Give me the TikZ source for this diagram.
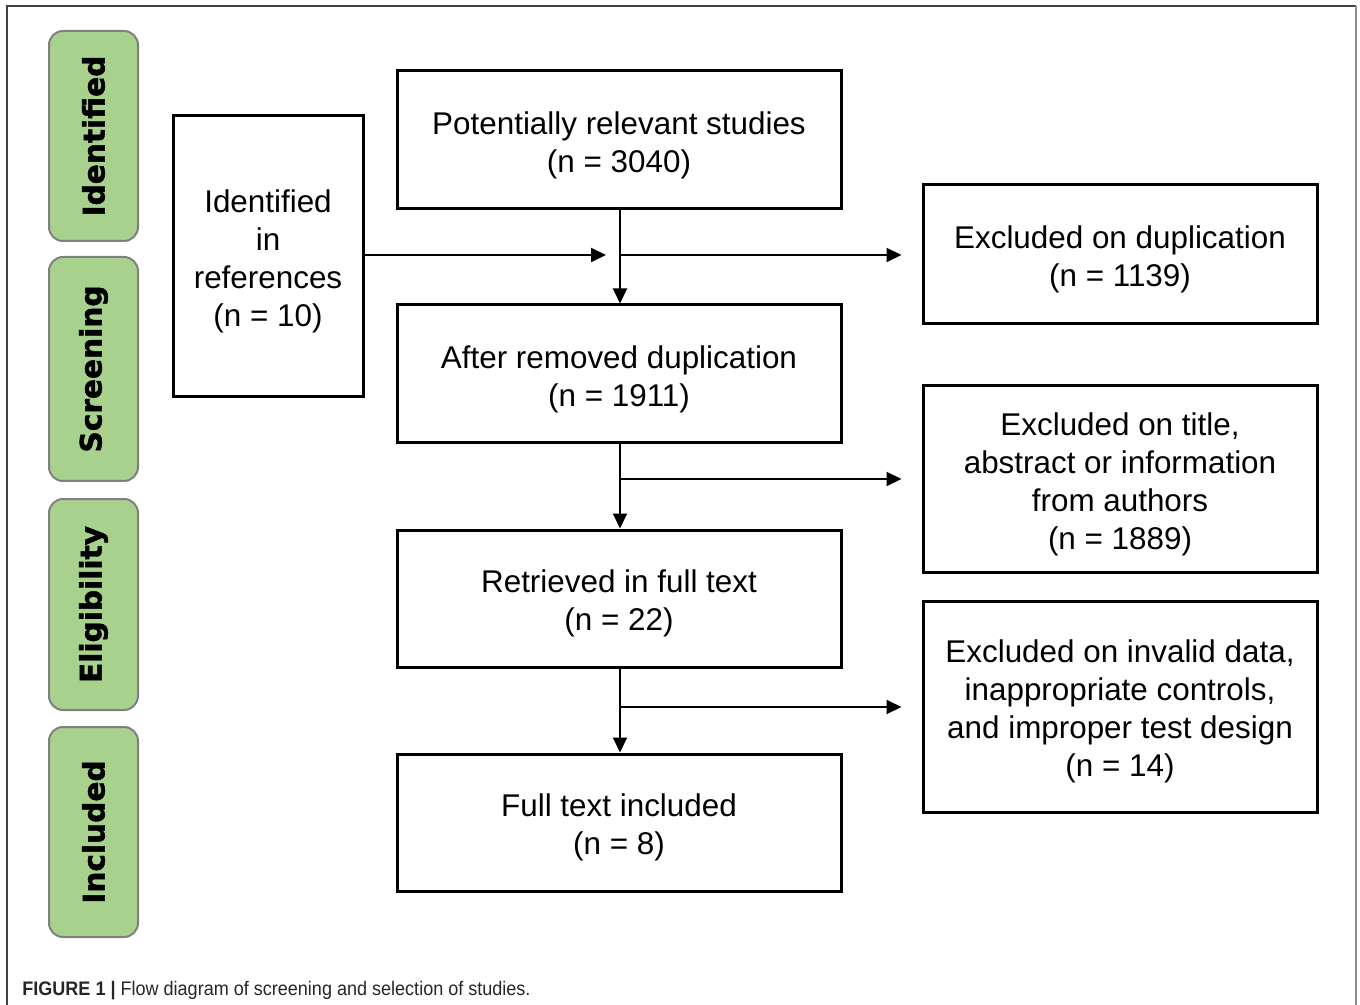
\documentclass[tikz,border=0pt]{standalone}
\usepackage{fontspec}
\setmainfont{Liberation Sans}
\newfontfamily\phasefont{DejaVu Sans}[BoldFeatures={FakeBold=1.5}]
\usetikzlibrary{arrows.meta}
\definecolor{phasegreen}{HTML}{A9D18E}
\definecolor{phaseedge}{HTML}{808080}
\newcommand\topgap{\rule{0pt}{16.5pt}}
\begin{document}
\begin{tikzpicture}[x=0.5pt,y=-0.5pt,
  box/.style={draw, line width=1.5pt, align=center, inner sep=0pt,
    font=\fontsize{15.7pt}{19pt}\selectfont},
  phase/.style={draw=phaseedge, fill=phasegreen, line width=1pt, rounded corners=7pt,
    rotate=90, inner sep=0pt, minimum height=44.5pt,
    font=\phasefont\bfseries\fontsize{14.8pt}{18pt}\selectfont},
  arr/.style={line width=1pt, -{Triangle[length=7.5pt,width=7pt]}},
  ln/.style={line width=1pt}
]
\useasboundingbox (0,0) rectangle (1360,1005);
% outer frame
\draw[line width=1pt, black!75] (7,1005) -- (7,6) -- (1356,6);
\draw[line width=1.3pt, black!45] (1356,6) -- (1356,1005);

% phase labels
\node[phase, minimum width=105pt] (ph1) at (93.5,136) {Identified};
\node[phase, minimum width=112pt] (ph2) at (93.5,369) {Screening};
\node[phase, minimum width=105.5pt] (ph3) at (93.5,604.5) {Eligibility};
\node[phase, minimum width=105pt] (ph4) at (93.5,832) {Included};

% boxes
\node[box, minimum width=95pt, minimum height=140.5pt] (ref) at (268,256.5)
  {\topgap Identified\\in\\references\\(n = 10)};
\node[box, minimum width=222pt, minimum height=69pt] (pot) at (619,140)
  {\topgap Potentially relevant studies\\(n = 3040)};
\node[box, minimum width=197pt, minimum height=69.5pt] (exdup) at (1120,254.5)
  {\topgap Excluded on duplication\\(n = 1139)};
\node[box, minimum width=222pt, minimum height=69pt] (after) at (619,374)
  {\topgap After removed duplication\\(n = 1911)};
\node[box, minimum width=197pt, minimum height=93pt] (extitle) at (1120,479)
  {\topgap Excluded on title,\\abstract or information\\from authors\\(n = 1889)};
\node[box, minimum width=222pt, minimum height=68.5pt] (ret) at (619,598.5)
  {\topgap Retrieved in full text\\(n = 22)};
\node[box, minimum width=197pt, minimum height=105.5pt] (exinv) at (1120,706.5)
  {\topgap Excluded on invalid data,\\inappropriate controls,\\and improper test design\\(n = 14)};
\node[box, minimum width=222pt, minimum height=68.5pt] (full) at (619,822.5)
  {\topgap Full text included\\(n = 8)};

% junction coordinates
\coordinate (j1) at (620,255);
\coordinate (j2) at (620,479);
\coordinate (j3) at (620,707);
\coordinate (t0) at (606,255);

% vertical flow
\draw[arr] (pot.south -| j1) -- (after.north -| j1);
\draw[arr] (after.south -| j2) -- (ret.north -| j2);
\draw[arr] (ret.south -| j3) -- (full.north -| j3);

% side arrows
\draw[arr] (ref.east |- j1) -- (t0);
\draw[arr] (j1) -- ([xshift=-10pt]exdup.west |- j1);
\draw[arr] (j2) -- ([xshift=-10pt]extitle.west |- j2);
\draw[arr] (j3) -- ([xshift=-10pt]exinv.west |- j3);

% caption
\node[anchor=base west, inner sep=0pt, text=black!85] (cap) at (22,995)
  {\scalebox{0.92}[1]{\fontsize{9.8pt}{11pt}\selectfont\textbf{FIGURE 1 |} Flow diagram of screening and selection of studies.}};
\end{tikzpicture}
\end{document}
